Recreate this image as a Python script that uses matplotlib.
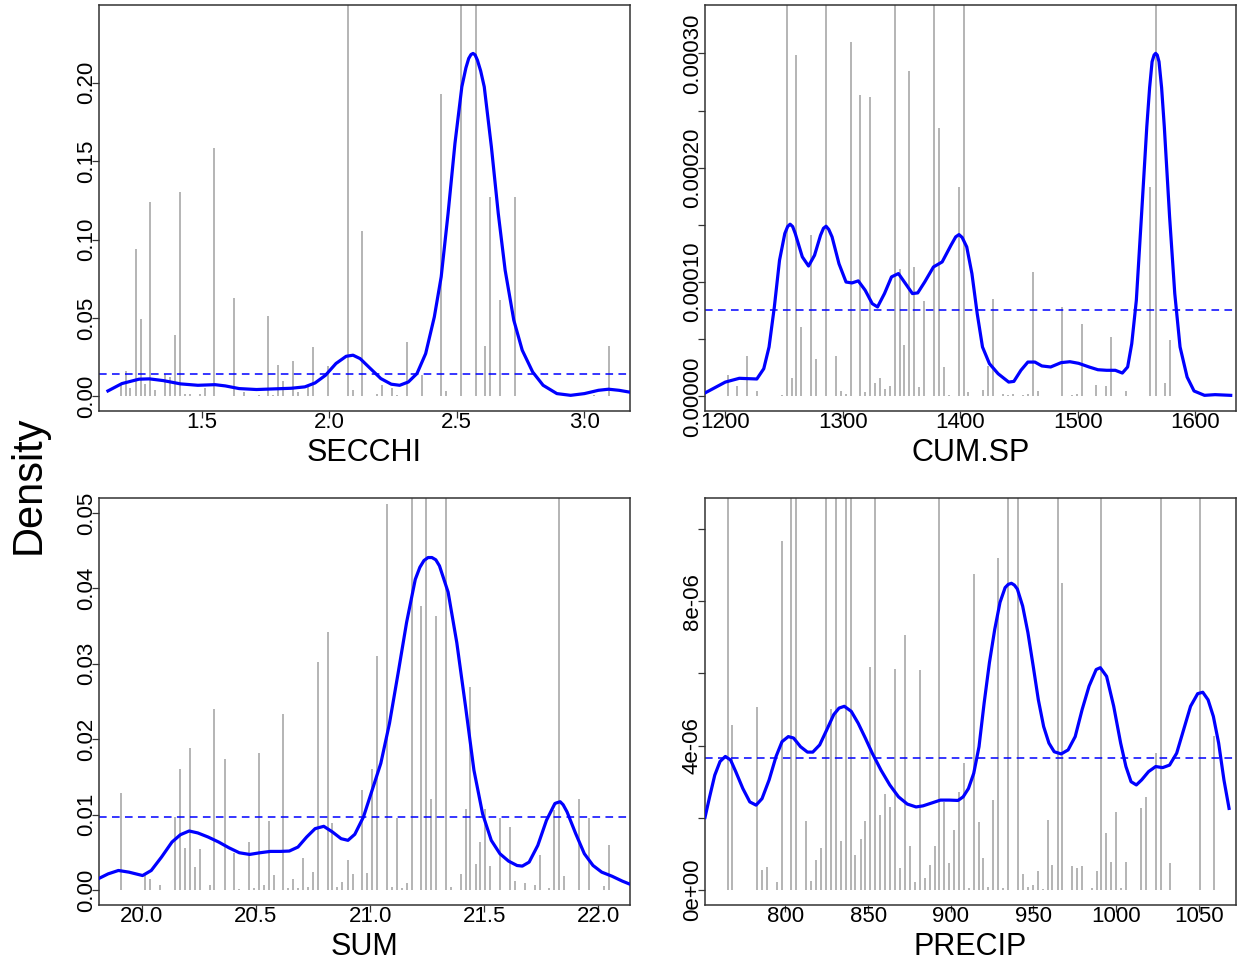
import numpy as np
import matplotlib
matplotlib.use("Agg")
import matplotlib.pyplot as plt

plt.rcParams['font.family'] = ['Liberation Sans', 'DejaVu Sans']

# ---------------- SECCHI ----------------
secchi_spike_x = [1.182, 1.2005, 1.218, 1.24, 1.259, 1.278, 1.298, 1.317, 1.355, 1.375, 1.393, 1.413,
                  1.432, 1.452, 1.491, 1.511, 1.549, 1.626, 1.665, 1.722, 1.761, 1.780, 1.80, 1.82,
                  1.859, 1.878, 1.917, 1.936, 1.995, 2.073, 2.092, 2.129, 2.188, 2.206, 2.245, 2.264,
                  2.304, 2.362, 2.439, 2.458, 2.516, 2.575, 2.612, 2.631, 2.671, 2.729, 3.039, 3.096]
secchi_spike_h = [0.0085, 0.0162, 0.0055, 0.094, 0.049, 0.008, 0.124, 0.004, 0.0145, 0.012, 0.039, 0.130,
                  0.0017, 0.0017, 0.0013, 0.005, 0.1585, 0.0626, 0.003, 0.0008, 0.0513, 0.0008, 0.0202, 0.0098,
                  0.0226, 0.003, 0.006, 0.0315, 0.019, 0.30, 0.004, 0.1055, 0.0017, 0.007, 0.0055, 0.0008,
                  0.0345, 0.0134, 0.1926, 0.0034, 0.30, 0.30, 0.0323, 0.127, 0.0613, 0.1268, 0.0008, 0.0319]
secchi_curve_x = [1.131, 1.186, 1.253, 1.294, 1.348, 1.416, 1.484, 1.551, 1.592, 1.646, 1.714, 1.782,
                  1.850, 1.904, 1.944, 1.985, 2.026, 2.066, 2.093, 2.121, 2.161, 2.202, 2.243, 2.276,
                  2.310, 2.344, 2.378, 2.412, 2.439, 2.466, 2.493, 2.520, 2.536, 2.547, 2.556, 2.564,
                  2.572, 2.581, 2.594, 2.608,
                  2.636, 2.663, 2.690, 2.724, 2.757, 2.798, 2.839, 2.893, 2.947, 3.001, 3.056, 3.096,
                  3.137, 3.180, 3.22]
secchi_curve_y = [0.0034, 0.0081, 0.0109, 0.0111, 0.0100, 0.0079, 0.0070, 0.0074, 0.0066, 0.0049, 0.0043, 0.0047,
                  0.0051, 0.0060, 0.0085, 0.0134, 0.0209, 0.0255, 0.0262, 0.0240, 0.0177, 0.0113, 0.0077, 0.0070,
                  0.0091, 0.0145, 0.0272, 0.0506, 0.0762, 0.1166, 0.1613, 0.1974, 0.2095, 0.2155, 0.2180, 0.2187,
                  0.2178, 0.2145, 0.2075, 0.1974,
                  0.1591, 0.1166, 0.0804, 0.0485, 0.0294, 0.0155, 0.0070, 0.0017, 0.0006, 0.0017, 0.0038, 0.0045,
                  0.0038, 0.0026, 0.0018]
secchi_hline = 0.01447

# ---------------- CUM.SP ----------------
cum_spike_x = [1202.1, 1210.1, 1218.8, 1227.1, 1247.9, 1252.1, 1256.3, 1260.4, 1264.6, 1272.9, 1277.1, 1285.7,
               1294.0, 1298.2, 1302.3, 1306.5, 1314.9, 1319.0, 1323.2, 1327.4, 1331.5, 1335.7, 1339.9, 1344.3,
               1348.2, 1352.4, 1356.5, 1360.7, 1364.9, 1369.3, 1377.7, 1381.8, 1386.0, 1390.2, 1398.5, 1402.7,
               1406.8, 1419.6, 1423.8, 1428.0, 1436.6, 1440.8, 1445.0, 1453.3, 1457.5, 1461.6, 1465.8, 1486.3,
               1494.6, 1498.8, 1503.3, 1515.8, 1524.1, 1528.3, 1541.1, 1561.3, 1566.1, 1574.1, 1578.6, 1615.8]
cum_spike_h = [1.84, 0.90, 3.56, 0.47, 0.15, 40.0, 1.6, 29.85, 6.1, 14.15, 3.24, 40.0,
               3.53, 0.47, 0.18, 31.0, 26.35, 0.35, 26.2, 1.2, 1.6, 0.67, 0.9, 40.0,
               11.1, 4.46, 28.5, 11.3, 0.85, 8.3, 40.0, 23.5, 2.6, 0.15, 18.3, 40.0,
               0.35, 0.6, 2.65, 8.5, 0.18, 0.15, 0.24, 0.15, 0.24, 10.9, 0.5, 7.8,
               0.09, 0.24, 6.3, 0.96, 0.9, 5.2, 0.5, 18.3, 40.0, 1.17, 4.9, 0.18]
cum_curve_x = [1180.0, 1191.1, 1200.0, 1211.9, 1219.3, 1226.8, 1232.7, 1237.2, 1241.7, 1246.1, 1250.6, 1253.0,
               1255.1, 1257.3,
               1259.5, 1265.5, 1270.8, 1275.9, 1281.0, 1283.5, 1285.7, 1288.0, 1290.8, 1296.7, 1302.7, 1307.7, 1313.1, 1319.0,
               1325.0, 1329.5, 1335.4, 1341.4, 1347.3, 1353.3, 1359.2, 1363.7, 1369.6, 1377.1, 1384.5, 1392.0,
               1396.0, 1398.8, 1401.5, 1405.4, 1409.8, 1414.3, 1418.8, 1424.7, 1432.1, 1441.1, 1445.5, 1451.5, 1457.4, 1463.4,
               1469.3, 1476.8, 1485.7, 1493.2, 1500.6, 1509.5, 1517.0, 1524.4, 1531.8, 1537.8, 1542.3, 1545.8,
               1549.7, 1554.2, 1558.6, 1561.0, 1563.1, 1564.8, 1566.1, 1567.5, 1569.0, 1571.2, 1573.5, 1578.0,
               1582.4, 1586.9, 1592.9, 1598.8,
               1607.7, 1616.7, 1630.0]
cum_curve_y = [0.15, 0.76, 1.25, 1.58, 1.55, 1.52, 2.42, 4.32, 7.82, 11.9, 14.24, 14.85,
               15.06, 14.85,
               14.24, 12.2, 11.4, 12.34, 14.09, 14.70, 14.88, 14.60, 13.95, 11.6, 10.0, 9.92, 10.1, 9.28,
               8.11, 7.82, 8.99, 10.45, 10.74, 9.86, 8.99, 9.05, 10.0, 11.32, 11.76, 13.22,
               13.95, 14.15, 13.90, 13.07, 10.74, 7.24, 4.32, 2.86, 1.98, 1.25, 1.31, 2.28, 3.0, 3.0,
               2.66, 2.57, 2.95, 3.03, 2.89, 2.57, 2.33, 2.28, 2.28, 2.04, 2.57, 4.61,
               8.4, 16.0, 23.58, 27.0, 29.27, 29.85, 30.0, 29.85, 29.27, 27.0, 23.58, 15.7,
               8.99, 4.32, 1.69, 0.47,
               0.09, 0.15, 0.09]
cum_scale = 1e-5
cum_hline = 7.56e-5

# ---------------- SUM ----------------
sum_spike_x = [19.908, 20.015, 20.036, 20.080, 20.144, 20.166, 20.188, 20.210, 20.231, 20.253, 20.297, 20.318,
               20.362, 20.404, 20.426, 20.469, 20.490, 20.511, 20.533, 20.555, 20.578, 20.620, 20.642, 20.664,
               20.685, 20.707, 20.728, 20.750, 20.772, 20.814, 20.835, 20.857, 20.879, 20.902, 20.923, 20.965,
               20.986, 21.009, 21.032, 21.074, 21.096, 21.117, 21.138, 21.160, 21.182, 21.225, 21.247, 21.268,
               21.289, 21.333, 21.354, 21.398, 21.419, 21.440, 21.463, 21.483, 21.504, 21.527, 21.570, 21.613,
               21.634, 21.679, 21.722, 21.743, 21.786, 21.808, 21.829, 21.850, 21.917, 21.959, 22.024, 22.045]
sum_spike_h = [0.0128, 0.0023, 0.0015, 0.0007, 0.0097, 0.016, 0.0055, 0.0188, 0.003, 0.0054, 0.0007, 0.024,
               0.0174, 0.0049, 0.0001, 0.0064, 0.0003, 0.0182, 0.0007, 0.0092, 0.002, 0.0233, 0.0002, 0.0015,
               0.0002, 0.0043, 0.0004, 0.0024, 0.0303, 0.0342, 0.0089, 0.0004, 0.001, 0.004, 0.0021, 0.0132,
               0.0022, 0.0161, 0.031, 0.0512, 0.0004, 0.0096, 0.0002, 0.0009, 0.06, 0.0377, 0.06, 0.0121,
               0.0364, 0.06, 0.0004, 0.0021, 0.0107, 0.0269, 0.0035, 0.0063, 0.0108, 0.0032, 0.0096, 0.0084,
               0.0012, 0.0009, 0.0007, 0.0047, 0.0002, 0.0106, 0.06, 0.0019, 0.012, 0.0096, 0.0005, 0.006]
sum_curve_x = [19.79, 19.852, 19.897, 19.943, 20.003, 20.041, 20.086, 20.132, 20.169, 20.207, 20.245, 20.290,
               20.336, 20.381, 20.427, 20.472, 20.517, 20.563, 20.608, 20.646, 20.684, 20.722, 20.759, 20.797,
               20.835, 20.873, 20.903, 20.933, 20.971, 21.009, 21.047, 21.085, 21.123, 21.160, 21.198, 21.218,
               21.236, 21.254, 21.271, 21.288, 21.304, 21.342, 21.380, 21.418, 21.455, 21.493, 21.531, 21.569,
               21.607, 21.644, 21.667,
               21.697, 21.735, 21.773, 21.810, 21.822, 21.833, 21.846, 21.863, 21.901, 21.939, 21.977, 22.015,
               22.060, 22.106, 22.16]
sum_curve_y = [0.0012, 0.00213, 0.00258, 0.00236, 0.00191, 0.00258, 0.00436, 0.00636, 0.00733, 0.00782, 0.00756, 0.00702,
               0.00636, 0.0056, 0.00493, 0.00471, 0.00493, 0.00511, 0.00511, 0.00516, 0.00569, 0.00702, 0.00813, 0.00844,
               0.00769, 0.0068, 0.00658, 0.00738, 0.00969, 0.01324, 0.0168, 0.0221, 0.0288, 0.0355, 0.0412, 0.0428,
               0.0437, 0.0441, 0.0441, 0.0438, 0.043, 0.0395, 0.0328, 0.0244, 0.0159, 0.0101, 0.00658, 0.0048,
               0.00382, 0.00324, 0.00316,
               0.00369, 0.00591, 0.00924, 0.01147, 0.0116, 0.0117, 0.0113, 0.01036, 0.00747, 0.0048, 0.00324, 0.00236,
               0.00182, 0.00116, 0.0005]
sum_hline = 0.00969

# ---------------- PRECIP ----------------
precip_spike_x = [765.1, 767.8, 782.6, 785.6, 788.6, 794.7, 797.7, 803.6, 806.6, 812.7, 815.7, 818.6,
                  821.6, 824.6, 827.5, 830.5, 833.4, 836.6, 839.6, 842.3, 845.5, 848.3, 851.4, 854.4,
                  857.4, 860.3, 863.1, 866.3, 869.2, 872.2, 875.1, 878.1, 881.1, 884.3, 887.2, 890.2,
                  893.1, 896.1, 899.1, 902.0, 905.0, 908.0, 910.9, 913.9, 916.9, 919.8, 922.8, 925.7,
                  928.7, 931.9, 934.8, 940.8, 943.7, 946.7, 949.7, 952.6, 955.6, 958.6, 961.5, 964.7,
                  967.2, 973.2, 976.3, 979.3, 985.2, 988.2, 991.2, 994.1, 997.1, 1000.0, 1003.2, 1006.2,
                  1014.9, 1018.0, 1024.0, 1027.1, 1032.9, 1050.8, 1059.5]
precip_spike_h = [12.0, 4.58, 5.07, 0.54, 0.63, 0.21, 9.66, 12.0, 12.0, 1.91, 0.24, 0.82,
                  1.16, 12.0, 5.01, 12.0, 1.36, 12.0, 12.0, 0.97, 1.40, 1.91, 6.18, 12.0,
                  2.09, 2.67, 2.29, 6.13, 0.61, 7.08, 1.23, 0.21, 6.11, 0.32, 0.68, 1.22,
                  12.0, 2.44, 0.74, 1.65, 2.72, 3.51, 0.05, 8.76, 1.88, 0.89, 0.09, 2.50,
                  9.20, 0.05, 12.0, 12.0, 0.45, 0.09, 0.14, 0.52, 0.02, 1.93, 0.68, 12.0,
                  8.52, 0.66, 0.61, 0.66, 0.05, 0.52, 12.0, 1.59, 0.77, 2.16, 0.05, 0.77,
                  2.26, 2.58, 3.79, 12.0, 0.74, 12.0, 4.27]
precip_curve_x = [751.3, 754.1, 757.2, 760.4, 763.6, 766.8, 769.9, 774.2, 778.4, 782.2, 785.8, 790.1,
                  794.3, 797.9, 801.7, 804.9, 809.1, 813.3, 816.5, 820.7, 825.0, 829.2, 832.4, 835.6,
                  839.8, 844.0, 848.3, 852.5, 857.8, 863.1, 868.4, 873.7, 879.0, 883.2, 888.5, 893.8,
                  899.1, 904.4, 907.5, 910.7, 913.9, 917.1, 920.2, 923.4, 926.6, 929.8, 932.9, 934.8, 936.7,
                  938.5, 940.3, 943.5, 946.7, 949.9, 953.0, 956.2, 959.4, 962.6, 966.8, 971.0, 975.3, 979.5,
                  983.7, 988.0, 990.5, 994.3, 998.6, 1002.8, 1006.0, 1009.1, 1012.3, 1015.5, 1019.7, 1024.0,
                  1028.2, 1032.4, 1036.7, 1040.9, 1045.1, 1049.4, 1052.5, 1055.7, 1058.9, 1062.1, 1065.3, 1068.4]
precip_curve_y = [2.01, 2.58, 3.18, 3.56, 3.70, 3.60, 3.28, 2.81, 2.44, 2.35, 2.53, 3.05,
                  3.70, 4.11, 4.25, 4.21, 3.97, 3.82, 3.82, 4.02, 4.44, 4.86, 5.04, 5.09,
                  4.95, 4.62, 4.21, 3.79, 3.32, 2.91, 2.58, 2.38, 2.30, 2.33, 2.41, 2.49,
                  2.49, 2.48, 2.58, 2.81, 3.23, 3.97, 5.18, 6.30, 7.22, 7.97, 8.38, 8.47, 8.50,
                  8.45, 8.34, 7.87, 7.13, 6.20, 5.27, 4.53, 4.07, 3.83, 3.77, 3.88, 4.25, 5.0,
                  5.65, 6.11, 6.16, 5.92, 5.09, 4.07, 3.42, 3.0, 2.91, 3.05, 3.28, 3.42,
                  3.39, 3.46, 3.79, 4.44, 5.09, 5.44, 5.48, 5.27, 4.81, 4.07, 3.05, 2.26]
precip_scale = 1e-6
precip_hline = 3.658e-6

# ---------------- axes / ticks ----------------
panels = [
    dict(name="SECCHI", sx=secchi_spike_x, sh=np.array(secchi_spike_h), cx=secchi_curve_x,
         cy=np.array(secchi_curve_y), hl=secchi_hline,
         xlim=(1.096, 3.18), ylim=(-0.0094, 0.2496),
         xt=[1.5, 2.0, 2.5, 3.0], xtl=["1.5", "2.0", "2.5", "3.0"],
         yt=[0, 0.05, 0.10, 0.15, 0.20], ytl=["0.00", "0.05", "0.10", "0.15", "0.20"],
         box=(99, 5, 630, 411)),
    dict(name="CUM.SP", sx=cum_spike_x, sh=np.array(cum_spike_h) * cum_scale, cx=cum_curve_x,
         cy=np.array(cum_curve_y) * cum_scale, hl=cum_hline,
         xlim=(1182.7, 1634.5), ylim=(-1.28e-5, 3.423e-4),
         xt=[1200, 1300, 1400, 1500, 1600], xtl=["1200", "1300", "1400", "1500", "1600"],
         yt=[0, 5e-5, 1e-4, 1.5e-4, 2e-4, 2.5e-4, 3e-4],
         ytl=["0.00000", "", "0.00010", "", "0.00020", "", "0.00030"],
         box=(705, 5, 1236, 411)),
    dict(name="SUM", sx=sum_spike_x, sh=np.array(sum_spike_h), cx=sum_curve_x,
         cy=np.array(sum_curve_y), hl=sum_hline,
         xlim=(19.812, 22.139), ylim=(-0.002, 0.052),
         xt=[20.0, 20.5, 21.0, 21.5, 22.0], xtl=["20.0", "20.5", "21.0", "21.5", "22.0"],
         yt=[0, 0.01, 0.02, 0.03, 0.04, 0.05], ytl=["0.00", "0.01", "0.02", "0.03", "0.04", "0.05"],
         box=(99, 498, 630, 905)),
    dict(name="PRECIP", sx=precip_spike_x, sh=np.array(precip_spike_h) * precip_scale, cx=precip_curve_x,
         cy=np.array(precip_curve_y) * precip_scale, hl=precip_hline,
         xlim=(751.3, 1072.6), ylim=(-4.18e-7, 1.0864e-5),
         xt=[800, 850, 900, 950, 1000, 1050], xtl=["800", "850", "900", "950", "1000", "1050"],
         yt=[0, 2e-6, 4e-6, 6e-6, 8e-6, 1e-5], ytl=["0e+00", "", "4e-06", "", "8e-06", ""],
         box=(705, 498, 1236, 905)),
]

W, H = 1238, 961
fig = plt.figure(figsize=(W / 100, H / 100), dpi=100)

for p in panels:
    x0, y0, x1, y1 = p["box"]
    ax = fig.add_axes([x0 / W, 1 - y1 / H, (x1 - x0) / W, (y1 - y0) / H])
    ax.vlines(p["sx"], 0, p["sh"], colors="#a8a8a8", linewidth=1.2, zorder=1)
    ax.axhline(p["hl"], color="#0000ff", linestyle=(0, (5, 3.5)), linewidth=1.1, zorder=2)
    ax.plot(p["cx"], p["cy"], color="#0000ff", linewidth=2.3, zorder=3,
            solid_joinstyle="round")
    ax.set_xlim(*p["xlim"])
    ax.set_ylim(*p["ylim"])
    ax.set_xticks(p["xt"])
    ax.set_xticklabels(p["xtl"])
    ax.set_yticks(p["yt"])
    ax.set_yticklabels(p["ytl"], rotation=90, va="center")
    ax.tick_params(axis="both", direction="out", length=5, width=0.9, color="#333333",
                   labelsize=16, labelcolor="black")
    ax.tick_params(axis="x", pad=-4)
    ax.tick_params(axis="y", pad=-3.5)
    for s in ax.spines.values():
        s.set_color("#333333")
        s.set_linewidth(1.1)
    ax.set_xlabel(p["name"], fontsize=22, labelpad=3)

fig.text(29 / W, 1 - 485 / H, "Density", rotation=90, fontsize=30,
         ha="center", va="center")

fig.savefig("out.png", dpi=100)
